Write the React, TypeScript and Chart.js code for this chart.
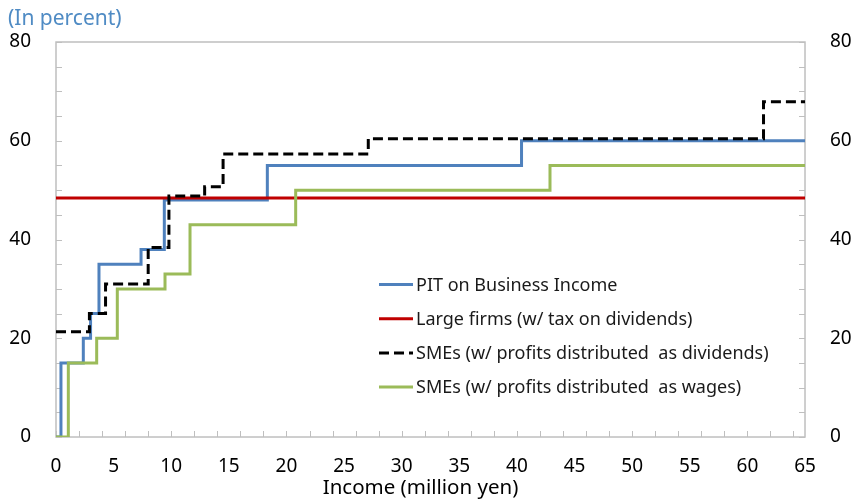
import React, { useEffect, useRef } from "react";
import { Chart, registerables } from "chart.js";

Chart.register(...registerables);

// ---- Data ----
const seriesNames = [
  "PIT on Business Income",
  "Large firms (w/ tax on dividends)",
  "SMEs (w/ profits distributed  as dividends)",
  "SMEs (w/ profits distributed  as wages)",
];

// Each point: income where the rate changes (million yen) and the new rate (%)
const pitIncome = [0, 0.43, 2.37, 3.0, 3.73, 7.38, 9.4, 18.34, 40.4, 65];
const pitRate = [0, 15, 20, 25, 35, 38, 48, 55, 60, 60];

const largeIncome = [0, 65];
const largeRate = [48.4, 48.4];

const divIncome = [0, 2.9, 4.3, 8.0, 9.8, 12.9, 14.5, 27.1, 61.4, 65];
const divRate = [21.3, 25, 31, 38.4, 48.8, 50.7, 57.3, 60.4, 67.9, 67.9];

const wageIncome = [0, 1.07, 3.53, 5.32, 9.46, 11.63, 20.8, 42.87, 65];
const wageRate = [0, 15, 20, 30, 33, 43, 50, 55, 55];

const xMin = 0;
const xMax = 65;
const xStep = 5;
const xMinorStep = 2;
const yMin = 0;
const yMax = 80;
const yStep = 20;
const yMinorStep = 5;

const unitLabel = "(In percent)";
const xTitle = "Income (million yen)";

const FONT = "'Noto Sans', 'Open Sans', sans-serif";

const toPoints = (xs: number[], ys: number[]) => xs.map((x, i) => ({ x, y: ys[i] }));

const frameAndTicks = {
  id: "frameAndTicks",
  beforeDatasetsDraw(chart: any) {
    const { ctx, chartArea: a, scales } = chart;
    const xs = scales.x;
    const ys = scales.y;
    ctx.save();
    ctx.strokeStyle = "#bfbfbf";
    ctx.lineWidth = 1.5;
    ctx.strokeRect(a.left, a.top, a.right - a.left, a.bottom - a.top);
    ctx.beginPath();
    for (let v = xMin; v <= xMax + 1e-9; v += xMinorStep) {
      const px = Math.round(xs.getPixelForValue(v)) + 0.5;
      ctx.moveTo(px, a.bottom);
      ctx.lineTo(px, a.bottom - 6);
    }
    for (let v = yMin; v <= yMax + 1e-9; v += yMinorStep) {
      const py = Math.round(ys.getPixelForValue(v)) + 0.5;
      ctx.moveTo(a.left, py);
      ctx.lineTo(a.left + 6, py);
      ctx.moveTo(a.right, py);
      ctx.lineTo(a.right - 6, py);
    }
    ctx.lineWidth = 1;
    ctx.stroke();
    ctx.restore();
  },
};

const customLegend = {
  id: "customLegend",
  afterDatasetsDraw(chart: any) {
    const { ctx, chartArea: a } = chart;
    const x0 = a.left + 323;
    const y0 = a.top + 242.5;
    const rowH = 34.2;
    ctx.save();
    ctx.font = `18px ${FONT}`;
    ctx.textBaseline = "middle";
    ctx.textAlign = "left";
    chart.data.datasets.forEach((ds: any, i: number) => {
      const y = y0 + i * rowH;
      ctx.beginPath();
      ctx.strokeStyle = ds.borderColor;
      ctx.lineWidth = ds.borderWidth;
      ctx.setLineDash(ds.borderDash || []);
      ctx.moveTo(x0, y);
      ctx.lineTo(x0 + 34, y);
      ctx.stroke();
      ctx.setLineDash([]);
      ctx.fillStyle = "#1a1a1a";
      ctx.fillText(ds.label, x0 + 37, y + 1);
    });
    // unit label top-left
    ctx.font = `21px ${FONT}`;
    ctx.fillStyle = "#4f8bc4";
    ctx.textBaseline = "alphabetic";
    ctx.fillText(unitLabel, 8, 25);
    // x-axis title
    ctx.font = `20.5px ${FONT}`;
    ctx.fillStyle = "#000";
    ctx.textAlign = "center";
    ctx.textBaseline = "middle";
    ctx.fillText(xTitle, (a.left + a.right) / 2 - 10, 488);
    ctx.restore();
  },
};

export default function App() {
  const canvasRef = useRef<HTMLCanvasElement | null>(null);

  useEffect(() => {
    if (!canvasRef.current) return;
    const tickFont = { family: FONT, size: 19 };
    const chart = new Chart(canvasRef.current, {
      type: "line",
      data: {
        datasets: [
          {
            label: seriesNames[0],
            data: toPoints(pitIncome, pitRate),
            borderColor: "#4f81bd",
            borderWidth: 3,
            stepped: "before",
            pointRadius: 0,
            fill: false,
            order: 3,
          },
          {
            label: seriesNames[1],
            data: toPoints(largeIncome, largeRate),
            borderColor: "#c00000",
            borderWidth: 3,
            pointRadius: 0,
            fill: false,
            order: 2,
          },
          {
            label: seriesNames[2],
            data: toPoints(divIncome, divRate),
            borderColor: "#000000",
            borderWidth: 3,
            borderDash: [10, 5],
            stepped: "before",
            pointRadius: 0,
            fill: false,
            order: 0,
          },
          {
            label: seriesNames[3],
            data: toPoints(wageIncome, wageRate),
            borderColor: "#9bbb59",
            borderWidth: 3,
            stepped: "before",
            pointRadius: 0,
            fill: false,
            order: 1,
          },
        ],
      },
      options: {
        animation: false,
        responsive: false,
        devicePixelRatio: 1,
        layout: { padding: { top: 42, left: 0, right: 0, bottom: 0 } },
        plugins: {
          legend: { display: false },
          tooltip: { enabled: false },
        },
        scales: {
          x: {
            type: "linear",
            min: xMin,
            max: xMax,
            grid: { display: false, drawTicks: false },
            border: { display: false },
            ticks: { stepSize: xStep, font: tickFont, color: "#000", padding: 18, maxRotation: 0 },
            afterFit: (s: any) => {
              s.height = 63;
            },
          },
          y: {
            type: "linear",
            position: "left",
            min: yMin,
            max: yMax,
            grid: { display: false, drawTicks: false },
            border: { display: false },
            ticks: { stepSize: yStep, font: tickFont, color: "#000", padding: 25 },
            afterFit: (s: any) => {
              s.width = 56;
            },
          },
          y2: {
            type: "linear",
            position: "right",
            min: yMin,
            max: yMax,
            grid: { display: false, drawTicks: false },
            border: { display: false },
            ticks: { stepSize: yStep, font: tickFont, color: "#000", padding: 25 },
            afterFit: (s: any) => {
              s.width = 51;
            },
          },
        },
      } as any,
      plugins: [frameAndTicks, customLegend],
    });
    return () => chart.destroy();
  }, []);

  return (
    <div style={{ position: "absolute", left: 0, top: 0, width: 856, height: 500, background: "#fff" }}>
      <canvas ref={canvasRef} width={856} height={500} style={{ display: "block" }} />
    </div>
  );
}
